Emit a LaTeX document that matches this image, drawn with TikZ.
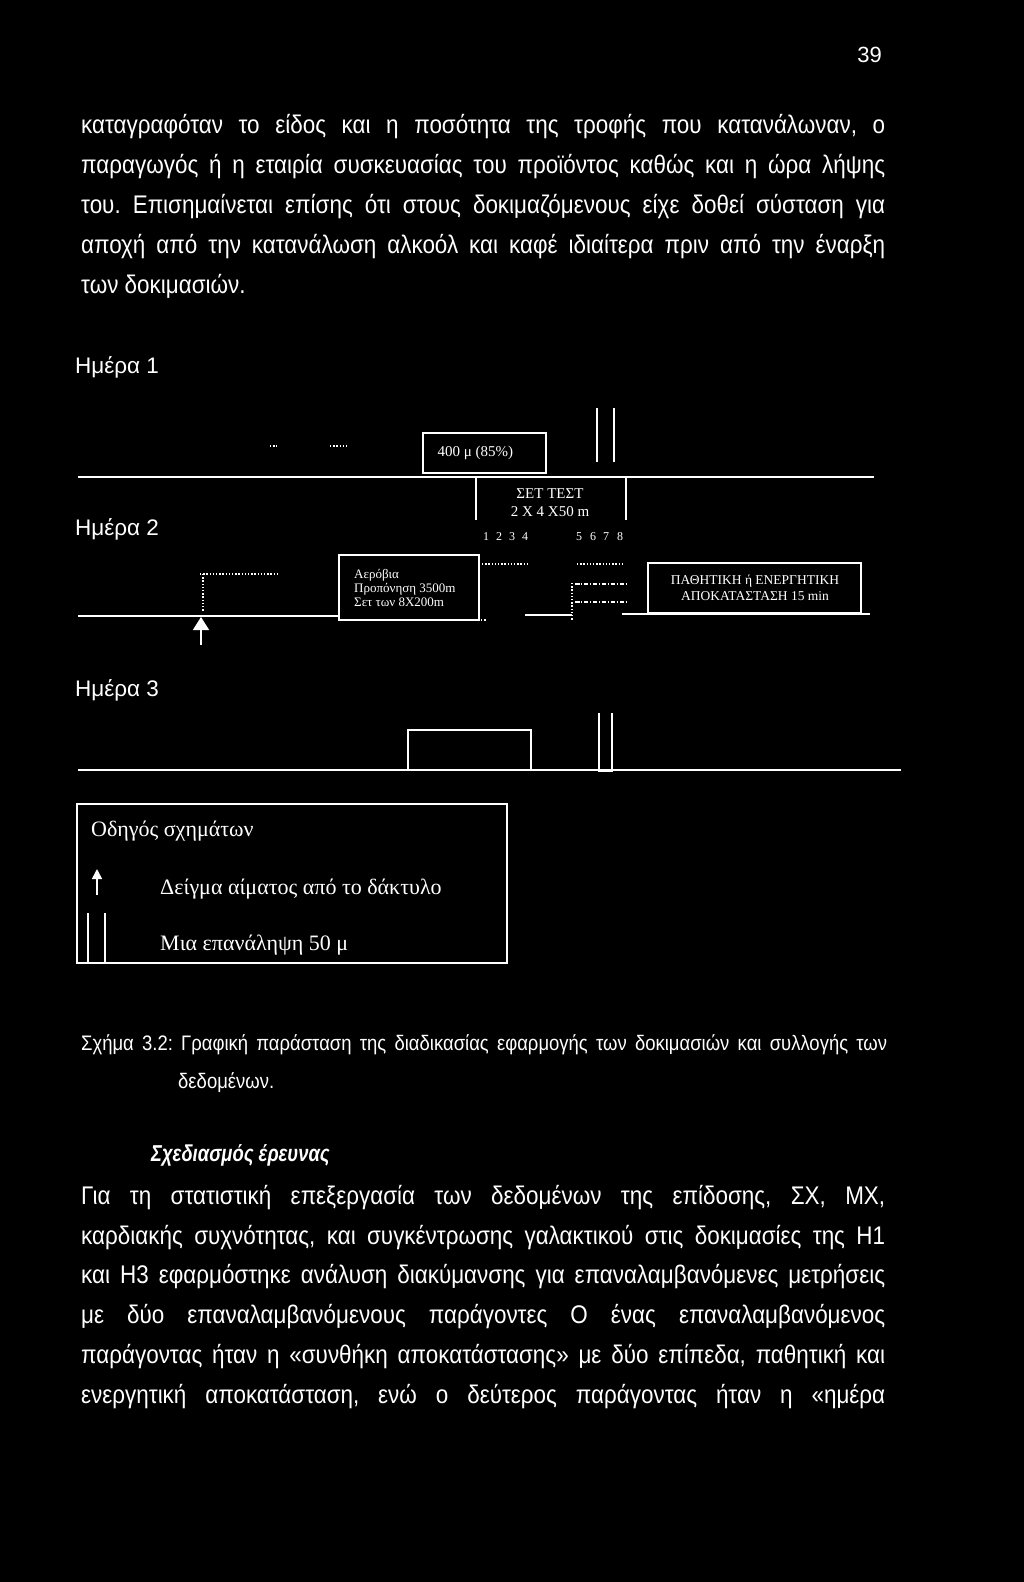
\documentclass[tikz,border=0pt]{standalone}
\usepackage{fontspec}
\setmainfont{Liberation Serif}
\newfontfamily\bodyf[FakeStretch=0.88]{Liberation Sans}
\newfontfamily\titlef[FakeStretch=0.8]{Liberation Sans}
\newfontfamily\dayf{Liberation Sans}
\usetikzlibrary{arrows.meta}
\frenchspacing
\begin{document}
\begin{tikzpicture}[x=1pt,y=-1pt,
  every node/.style={text=white, inner sep=0pt},
  ln/.style={draw=white, line width=1.3pt},
  boxn/.style={draw=white, line width=1.3pt},
  dotln/.style={draw=white, line width=1.9pt, dash pattern=on 1.4pt off 1.8pt},
  dashdotln/.style={draw=white, line width=1.9pt, dash pattern=on 4.5pt off 1.5pt on 1.4pt off 1.5pt},
  body/.style={anchor=base west, font=\bodyf\fontsize{25.5}{30}\selectfont},
  captxt/.style={anchor=base west, font=\bodyf\fontsize{21}{25}\selectfont},
  day/.style={anchor=base west, font=\dayf\fontsize{22.5}{26}\selectfont},
  sm/.style={font=\fontsize{15}{18}\selectfont},
  tiny/.style={font=\fontsize{13}{15}\selectfont},
  leg/.style={anchor=base west, font=\fontsize{22}{26}\selectfont},
  uparrow/.style={draw=white, line width=1.6pt}
]
\fill[black] (0,0) rectangle (1024,1582);
\useasboundingbox (0,0) rectangle (1024,1582);

% page number
\node[anchor=base east, font=\dayf\fontsize{22}{26}\selectfont] (pg) at (882,62) {39};

% top paragraph
\node[body] (t1) at (81,133) {\makebox[804pt][s]{καταγραφόταν το είδος και η ποσότητα της τροφής που κατανάλωναν, ο}};
\node[body] (t2) at (81,173) {\makebox[804pt][s]{παραγωγός ή η εταιρία συσκευασίας του προϊόντος καθώς και η ώρα λήψης}};
\node[body] (t3) at (81,213) {\makebox[804pt][s]{του. Επισημαίνεται επίσης ότι στους δοκιμαζόμενους είχε δοθεί σύσταση για}};
\node[body] (t4) at (81,253) {\makebox[804pt][s]{αποχή από την κατανάλωση αλκοόλ και καφέ ιδιαίτερα πριν από την έναρξη}};
\node[body] (t5) at (81,293) {των δοκιμασιών.};

% day labels
\node[day] (day1) at (75,373) {Ημέρα 1};
\node[day] (day2) at (75,535) {Ημέρα 2};
\node[day] (day3) at (75,696) {Ημέρα 3};

% ---------- Day 1 / Day 2 diagram ----------
\draw[ln] (78,477) -- (874,477);
\node[boxn, minimum width=123pt, minimum height=40pt] (b400) at (484.5,453) {};
\node[sm, anchor=west] (t400) at ([xshift=15pt]b400.west) {400 μ (85\%)};
% stray dots
\draw[dotln] (270,446) -- (277,446);
\draw[dotln] (330,446) -- (349,446);
% double bars (one repetition)
\draw[ln] (597,408) -- (597,462);
\draw[ln] (614,408) -- (614,462);
% set test
\draw[ln] (476,477) -- (476,520);
\draw[ln] (626,477) -- (626,520);
\node[sm] (st1) at (550,494) {ΣΕΤ ΤΕΣΤ};
\node[sm] (st2) at (550,512) {2 X 4 X50 m};
\foreach \x/\d in {486/1,499/2,512/3,525/4,579/5,593/6,606/7,620/8}
  \node[font=\fontsize{12}{14}\selectfont] (n\d) at (\x,537) {\d};

% lower day 2 line
\draw[ln] (78,616) -- (339,616);
\node[boxn, minimum width=140pt, minimum height=65pt] (aer) at (409,587.5) {};
\node[tiny, anchor=base west] (aer1) at (354,578) {Αερόβια};
\node[tiny, anchor=base west] (aer2) at (354,592) {Προπόνηση 3500m};
\node[tiny, anchor=base west] (aer3) at (354,606) {Σετ των 8Χ200m};
\draw[dotln] (481,620) -- (486,620);
\draw[dotln] (482,564) -- (527,564);
\draw[dotln] (577,564) -- (623,564);
\draw[dashdotln] (575,584) -- (627,584);
\draw[dashdotln] (575,602) -- (627,602);
\draw[ln] (525,615) -- (572,615);
\draw[dotln] (572,583) -- (572,620);
\draw[ln] (622,614) -- (870,614);
\node[boxn, minimum width=213pt, minimum height=50pt] (rec) at (754.5,588) {};
\node[font=\fontsize{13.5}{16}\selectfont, anchor=base] (rec1) at (755,584) {ΠΑΘΗΤΙΚΗ ή ΕΝΕΡΓΗΤΙΚΗ};
\node[font=\fontsize{13.5}{16}\selectfont, anchor=base] (rec2) at (755,600) {ΑΠΟΚΑΤΑΣΤΑΣΗ 15 min};
% left dotted marker + blood sample arrow
\draw[dotln] (200,574) -- (277,574);
\draw[dotln] (203,574) -- (203,612);
\coordinate (a2tip) at (201,617);
\coordinate (a2tail) at (201,645);
\draw[uparrow, -{Triangle[width=16pt,length=13pt,fill=white]}] (a2tail) -- (a2tip);

% ---------- Day 3 ----------
\draw[ln] (78,770) -- (901,770);
\node[boxn, minimum width=123pt, minimum height=40pt] (b3) at (469.5,750) {};
\draw[ln] (599,713) -- (599,771) -- (612,771) -- (612,713);

% ---------- legend ----------
\node[boxn, minimum width=430pt, minimum height=159pt] (legend) at (292,883.5) {};
\node[leg] (lg1) at (91,836) {Οδηγός σχημάτων};
\coordinate (lgtip) at (97,869);
\coordinate (lgtail) at (97,895);
\draw[uparrow, -{Triangle[width=10pt,length=10pt,fill=white]}] (lgtail) -- (lgtip);
\node[leg] (lg2) at (160,894) {Δείγμα αίματος από το δάκτυλο};
\draw[ln] (88,913) -- (88,963);
\draw[ln] (105,913) -- (105,963);
\node[leg] (lg3) at (160,950) {Μια επανάληψη 50 μ};

% caption
\node[captxt] (c1) at (81,1050) {\makebox[806pt][s]{Σχήμα 3.2: Γραφική παράσταση της διαδικασίας εφαρμογής των δοκιμασιών και συλλογής των}};
\node[captxt] (c2) at (178,1088) {δεδομένων.};

% section title
\node[anchor=base west, font=\titlef\bfseries\itshape\fontsize{23}{28}\selectfont] (sec) at (151,1161) {Σχεδιασμός έρευνας};

% bottom paragraph
\node[body] (p1) at (81,1204) {\makebox[804pt][s]{Για τη στατιστική επεξεργασία των δεδομένων της επίδοσης, ΣΧ, ΜΧ,}};
\node[body] (p2) at (81,1244) {\makebox[804pt][s]{καρδιακής συχνότητας, και συγκέντρωσης γαλακτικού στις δοκιμασίες της Η1}};
\node[body] (p3) at (81,1283) {\makebox[804pt][s]{και Η3 εφαρμόστηκε ανάλυση διακύμανσης για επαναλαμβανόμενες μετρήσεις}};
\node[body] (p4) at (81,1323) {\makebox[804pt][s]{με δύο επαναλαμβανόμενους παράγοντες Ο ένας επαναλαμβανόμενος}};
\node[body] (p5) at (81,1363) {\makebox[804pt][s]{παράγοντας ήταν η «συνθήκη αποκατάστασης» με δύο επίπεδα, παθητική και}};
\node[body] (p6) at (81,1403) {\makebox[804pt][s]{ενεργητική αποκατάσταση, ενώ ο δεύτερος παράγοντας ήταν η «ημέρα}};
\end{tikzpicture}
\end{document}
